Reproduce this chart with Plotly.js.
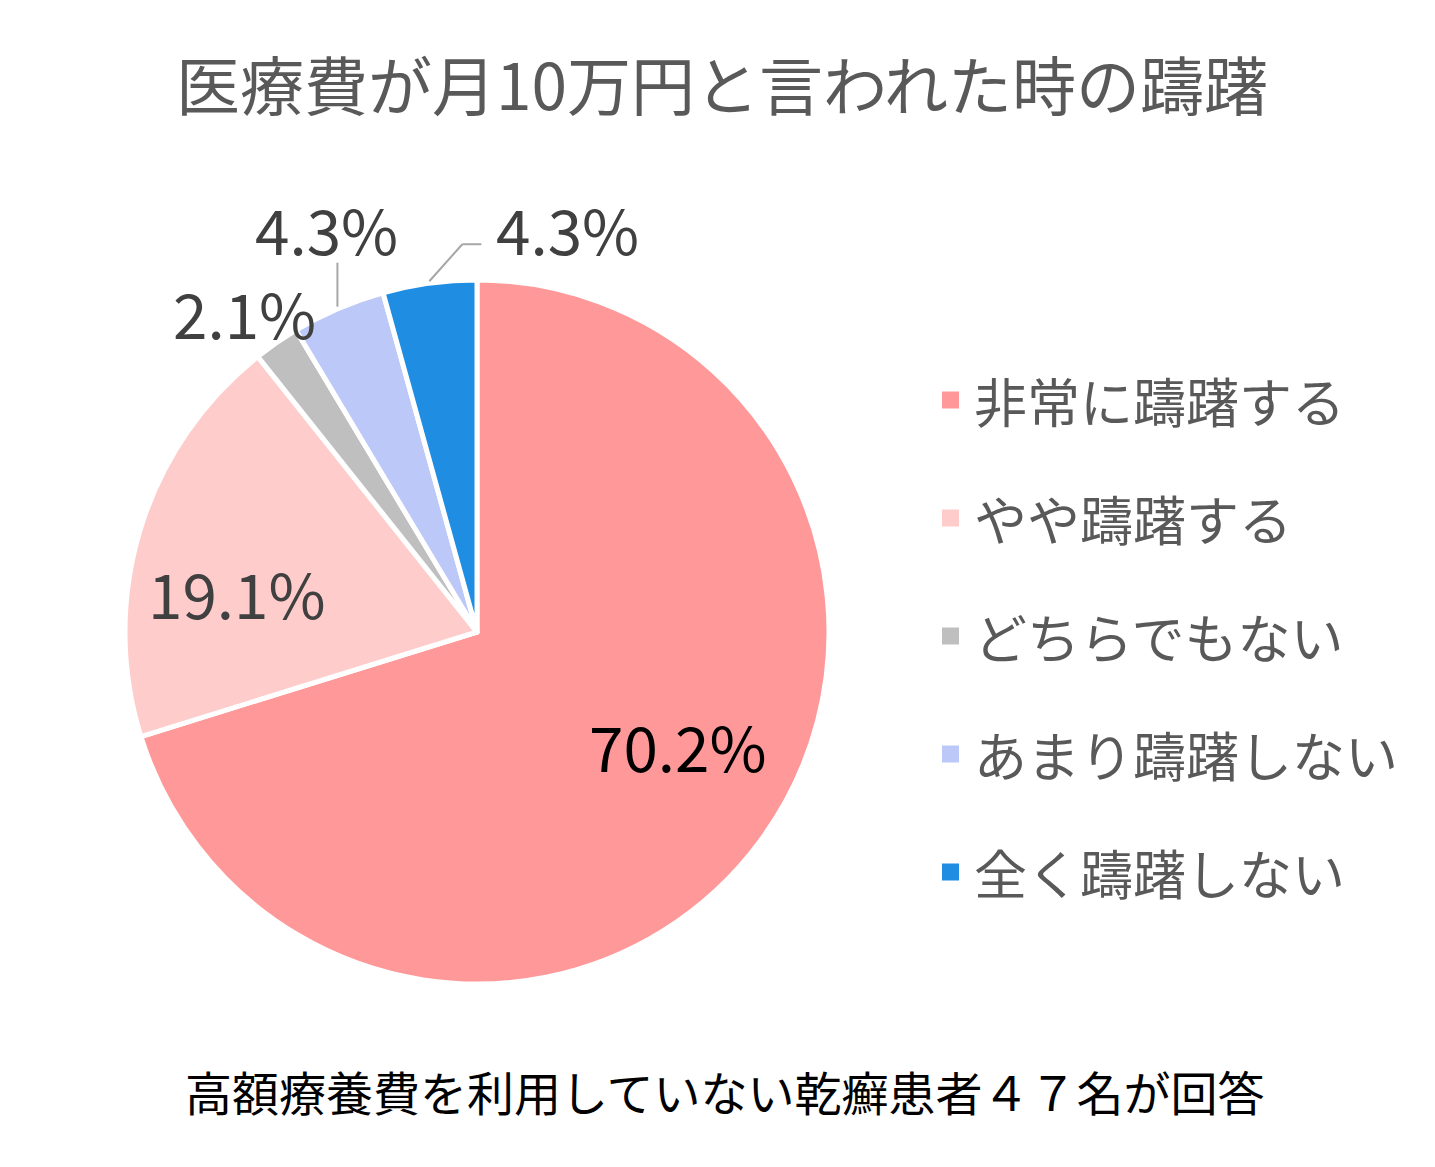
<!DOCTYPE html>
<html>
<head>
<meta charset="utf-8">
<script src="https://cdn.plot.ly/plotly-3.0.1.min.js"></script>
<style>
  body { margin: 0; background: #ffffff; }
  #plot { width: 1435px; height: 1167px; }
</style>
</head>
<body>
<div id="plot"></div>
<script>
// answers, clockwise from 12 o'clock
var labels = ['非常に躊躇する', 'やや躊躇する', 'どちらでもない', 'あまり躊躇しない', '全く躊躇しない']
var values = [70.2, 19.1, 2.1, 4.3, 4.3]
var colors = ['#FF9999', '#FFCCCC', '#BFBFBF', '#BBC8F8', '#1F8DE2']

var chart_title = '医療費が月10万円と言われた時の躊躇'
var footnote = '高額療養費を利用していない乾癬患者４７名が回答'

var jp_font = '"Noto Sans CJK JP", "Noto Sans", sans-serif'
var W = 1435, H = 1167
// pie geometry in pixels
var cx = 477, cy = 632, R = 352

// label placement: radius as fraction of R, angle nudge in degrees, colour, leader line
var label_place = [
   {r: 0.655, da: -6.9, color: '#000000', leader: null},
   {r: 0.69, da: -7.6, color: '#404040', leader: null},
   {r: 1.123, da: -1.2, color: '#404040', leader: null},
   {r: 1.224, da: 2.8, color: '#404040', leader: [[0, 0], [0, -44]]},
   {r: 1.176, da: 20.3, color: '#404040', leader: [[0, 0], [33, -37], [52, -37]]}
]

function px(x) { return x / W }
function py(y) { return 1 - y / H }

var plotDiv = document.getElementById('plot')

pie_trace = {
   type: 'pie',
   labels: labels,
   values: values,
   sort: false,
   direction: 'clockwise',
   rotation: 0,
   marker: {
      colors: colors,
      line: {color: '#ffffff', width: 5}
   },
   textinfo: 'none',
   hoverinfo: 'label+percent',
   showlegend: false,
   domain: {x: [px(cx - R), px(cx + R)], y: [py(cy + R), py(cy - R)]}
}

var annotations = []
var shapes = []

// percentage labels placed from each slice's middle angle
var total = values.reduce(function(a, b) { return a + b }, 0)
var cum = 0
for (var i = 0; i < values.length; i++) {
   var mid = (cum + values[i] / 2) / total * 360
   cum += values[i]
   var pl = label_place[i]
   var a = (mid + pl.da) * Math.PI / 180
   var lx = cx + pl.r * R * Math.sin(a)
   var ly = cy - pl.r * R * Math.cos(a)
   annotations.push({
      xref: 'paper', yref: 'paper',
      x: px(lx), y: py(ly),
      xanchor: 'center', yanchor: 'middle',
      text: values[i].toFixed(1) + '%', showarrow: false,
      font: {family: jp_font, size: 62, color: pl.color}
   })
   if (pl.leader) {
      var am = mid * Math.PI / 180
      var ex = cx + (R + 2) * Math.sin(am)
      var ey = cy - (R + 2) * Math.cos(am)
      for (var k = 0; k < pl.leader.length - 1; k++) {
         shapes.push({
            type: 'line', xref: 'paper', yref: 'paper',
            x0: px(ex + pl.leader[k][0]), y0: py(ey + pl.leader[k][1]),
            x1: px(ex + pl.leader[k + 1][0]), y1: py(ey + pl.leader[k + 1][1]),
            line: {color: '#A6A6A6', width: 2}
         })
      }
   }
}

// legend drawn by hand so the row spacing matches the original
var legend_top = 400
var legend_step = 118
for (var i = 0; i < labels.length; i++) {
   var yc = legend_top + i * legend_step
   annotations.push({
      xref: 'paper', yref: 'paper',
      x: px(972), y: py(yc),
      xanchor: 'left', yanchor: 'middle',
      text: labels[i], showarrow: false,
      font: {family: jp_font, size: 53, color: '#595959'}
   })
   shapes.push({
      type: 'rect', xref: 'paper', yref: 'paper',
      x0: px(942), x1: px(959),
      y0: py(yc - 8.5), y1: py(yc + 8.5),
      fillcolor: colors[i], line: {width: 0}
   })
}
annotations.push({
   xref: 'paper', yref: 'paper',
   x: px(725), y: py(1090),
   xanchor: 'center', yanchor: 'middle',
   text: footnote, showarrow: false,
   font: {family: jp_font, size: 47, color: '#000000'}
})

Plotly.newPlot(plotDiv, [pie_trace], {
   width: W,
   height: H,
   margin: {l: 0, r: 0, t: 0, b: 0},
   paper_bgcolor: '#ffffff',
   title: {
      text: chart_title,
      font: {family: jp_font, size: 64, color: '#595959'},
      x: px(722), xanchor: 'center',
      y: py(88), yanchor: 'middle'
   },
   annotations: annotations,
   shapes: shapes
}, {staticPlot: true})
</script>
</body>
</html>
